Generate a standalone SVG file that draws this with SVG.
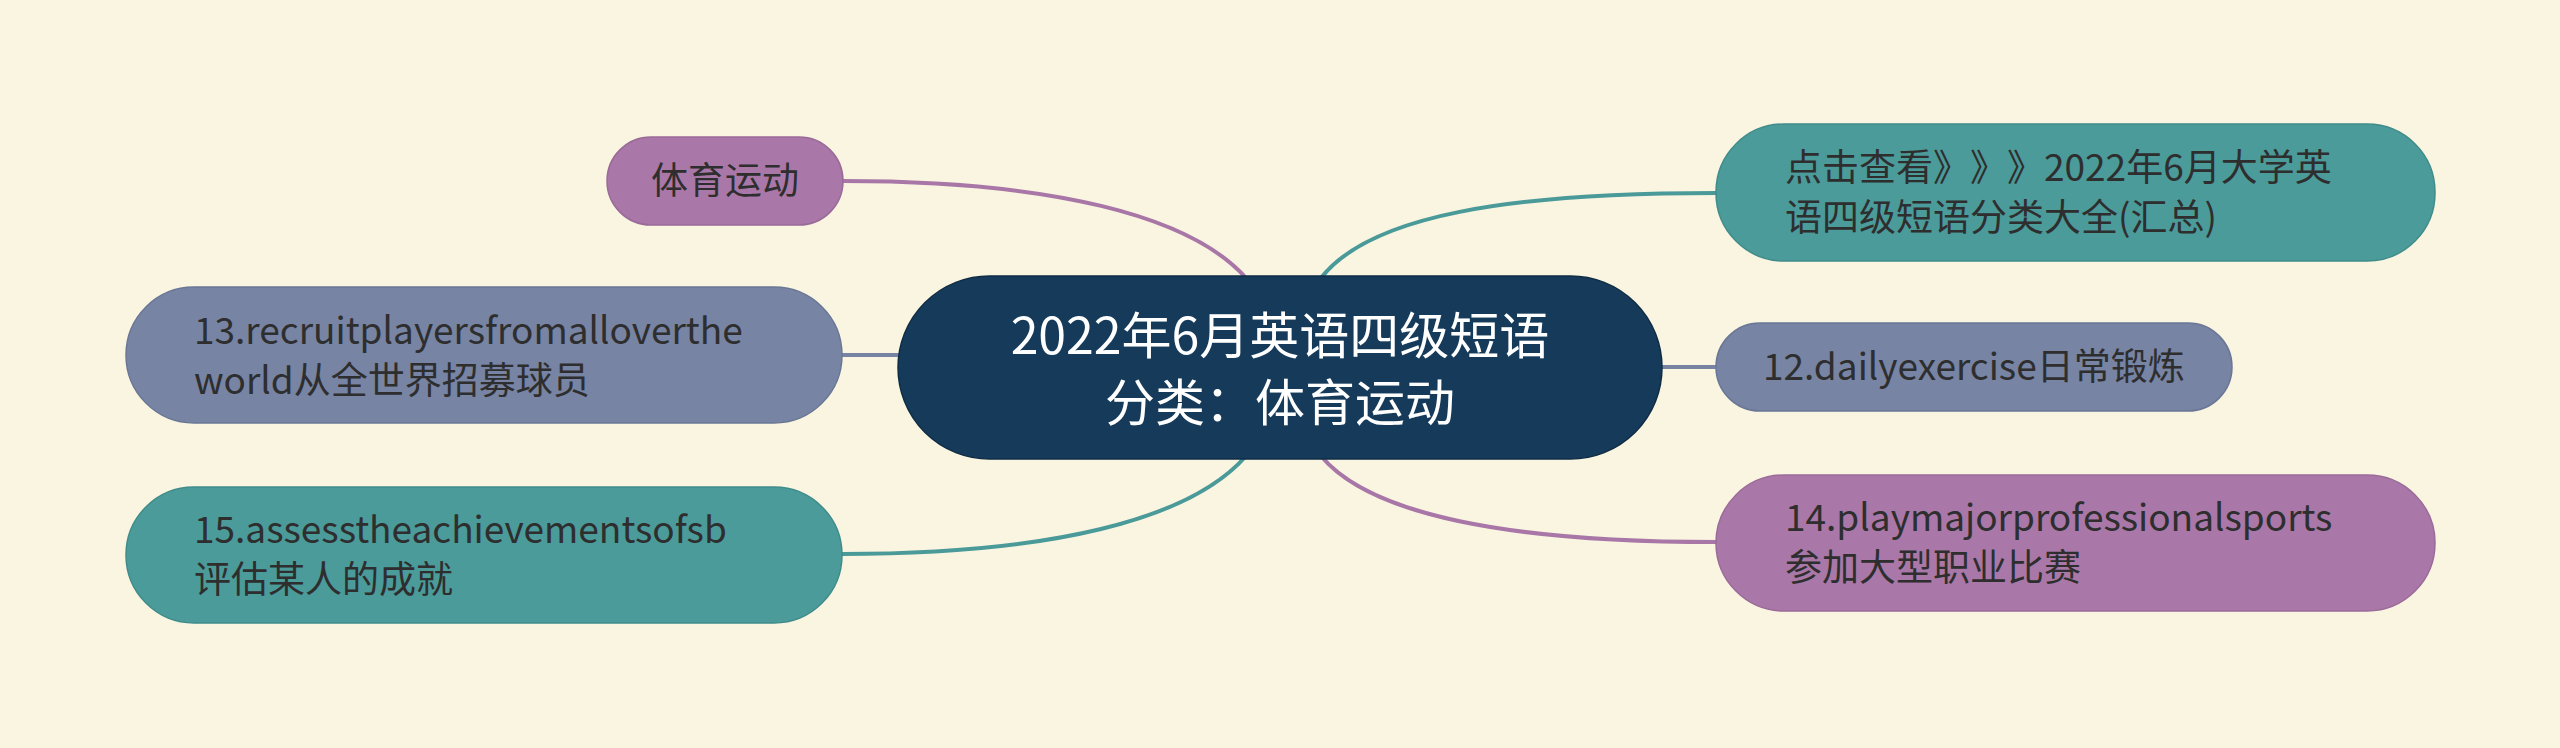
<svg xmlns="http://www.w3.org/2000/svg" width="2560" height="748" viewBox="0 0 2560 748">
<style>
.bg{fill:#faf5e0}
.ln{fill:none;stroke-width:4;stroke-linecap:round}
.pu{stroke:#a877a7}
.te{stroke:#4a9a99}
.sl{stroke:#7683a3}
text{text-spacing-trim:space-all}
.t{font-family:"Noto Sans CJK SC","Noto Sans",sans-serif;font-size:37px;fill:#2e2e2e}
.ct{font-family:"Noto Sans CJK SC","Noto Sans",sans-serif;font-size:50px;fill:#ffffff;text-anchor:middle}
.npu{fill:#a978a8;stroke:#9a6a99;stroke-width:1.5}
.nte{fill:#4b9b9a;stroke:#3f8c8b;stroke-width:1.5}
.nsl{fill:#7784a4;stroke:#6a7796;stroke-width:1.5}
.nc{fill:#163b5a;stroke:#0f2c45;stroke-width:1.5}
</style>
<rect class="bg" x="0" y="0" width="2560" height="748"/>
<g id="connectors">
<path class="ln pu" d="M843,181 C1050,181 1190,215 1246,278"/>
<path class="ln te" d="M1321,278 C1370,215 1510,193 1716,193"/>
<path class="ln te" d="M1246,456 C1190,520 1050,554 842,554"/>
<path class="ln pu" d="M1321,456 C1370,515 1510,542 1716,542"/>
<path class="ln sl" d="M842,355 L900,355"/>
<path class="ln sl" d="M1660,367 L1716,367"/>
</g>
<g id="center">
<rect class="nc" x="898" y="276" width="764" height="183" rx="91.5"/>
<text class="ct" x="1280" y="354">2022年6月英语四级短语</text>
<text class="ct" x="1280" y="421">分类：体育运动</text>
</g>
<g id="node-tiyu">
<rect class="npu" x="607" y="137" width="236" height="88" rx="44"/>
<text class="t" x="725" y="194" text-anchor="middle">体育运动</text>
</g>
<g id="node-13">
<rect class="nsl" x="126" y="287" width="716" height="136" rx="68"/>
<text class="t" x="194" y="344">13.recruitplayersfromalloverthe</text>
<text class="t" x="194" y="394">world从全世界招募球员</text>
</g>
<g id="node-15">
<rect class="nte" x="126" y="487" width="716" height="136" rx="68"/>
<text class="t" x="194" y="543">15.assesstheachievementsofsb</text>
<text class="t" x="194" y="593">评估某人的成就</text>
</g>
<g id="node-link">
<rect class="nte" x="1716" y="124" width="719" height="137" rx="68"/>
<text class="t" x="1785" y="181">点击查看<tspan x="1933">》</tspan><tspan x="1970">》</tspan><tspan x="2007">》</tspan><tspan x="2044">2022年6月大学英</tspan></text>
<text class="t" x="1785" y="231">语四级短语分类大全(汇总)</text>
</g>
<g id="node-12">
<rect class="nsl" x="1716" y="323" width="516" height="88" rx="44"/>
<text class="t" x="1763" y="380">12.dailyexercise日常锻炼</text>
</g>
<g id="node-14">
<rect class="npu" x="1716" y="475" width="719" height="136" rx="68"/>
<text class="t" x="1785" y="531">14.playmajorprofessionalsports</text>
<text class="t" x="1785" y="581">参加大型职业比赛</text>
</g>
</svg>
